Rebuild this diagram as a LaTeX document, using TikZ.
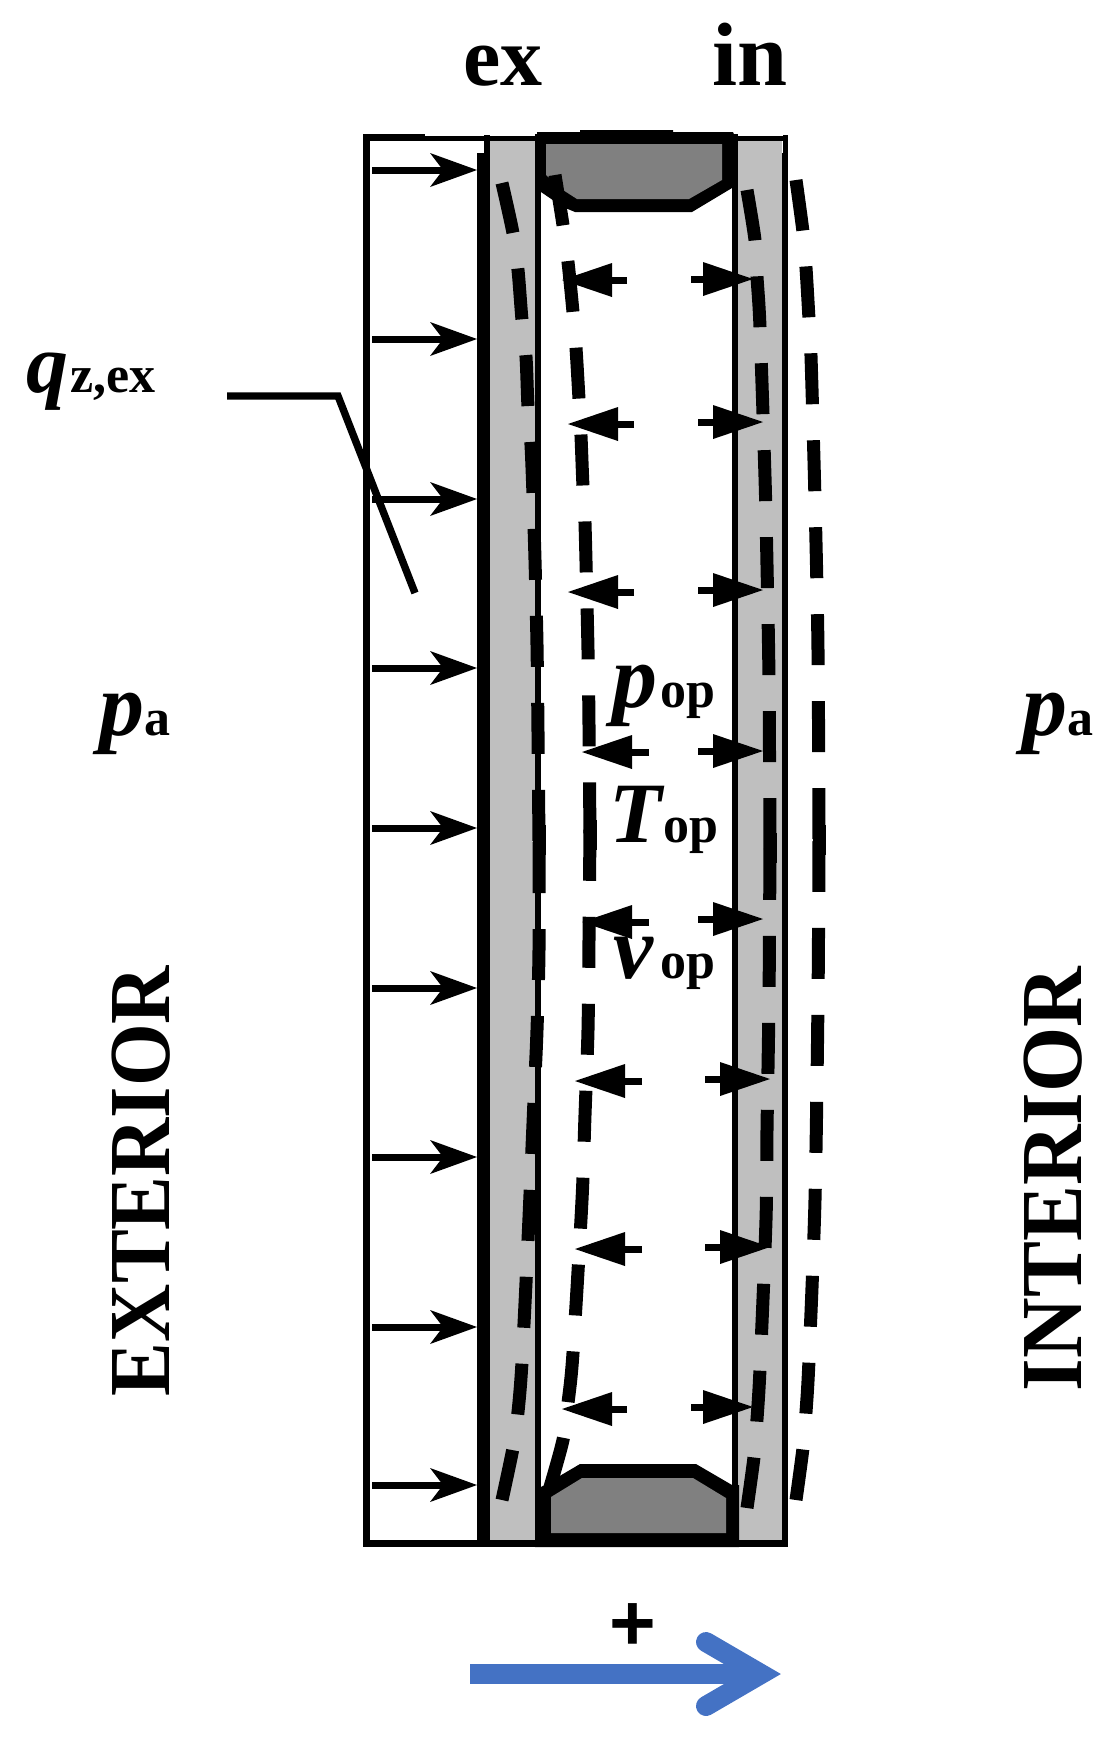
\documentclass[tikz,border=0pt]{standalone}
\usepackage{fontspec}
\setmainfont{Liberation Serif}
\newfontfamily\plusfont{Liberation Sans}
\newcommand{\fs}[1]{\fontsize{#1}{#1}\selectfont}
\definecolor{glass}{HTML}{BFBFBF}
\definecolor{spacer}{HTML}{808080}
\definecolor{blueA}{HTML}{4472C4}
\tikzset{
  lbl/.style={inner sep=0pt,outer sep=0pt,anchor=base west},
  dsh/.style={line width=6.5pt,dash pattern=on 25.5pt off 18pt,line cap=butt},
  joinpatch/.style={line width=6.5pt,line cap=butt},
  shaft/.style={line width=3.5pt,line cap=butt},
  wall/.style={fill=black,draw=none}
}
\newcommand{\ibp}[1]{\textbf{\textit{#1}}}
\newcommand{\sub}[1]{\fs{26}\textbf{#1}}
\begin{document}
\begin{tikzpicture}[x=0.5pt,y=-0.5pt]
\useasboundingbox (0,0) rectangle (1111,1737);
% glass panes
\fill[glass] (490,141) rectangle (535,1540);
\fill[glass] (738,141) rectangle (782,1540);
% outer frame
\fill[wall] (363,134) rectangle (370,1547);
\fill[wall] (363,134) rectangle (425,141);
\fill[wall] (425,135.5) rectangle (788,141);
\fill[wall] (363,1540) rectangle (788,1547);
\fill[wall] (477,153) rectangle (490,1547);
\fill[wall] (484,135) rectangle (490,153);
\fill[wall] (535,134) rectangle (541,1547);
\fill[wall] (732,134) rectangle (738,1547);
\fill[wall] (782,153) rectangle (788,1547);
\fill[wall] (783,135) rectangle (788,153);
% top spacer
\fill[black] (537,132) -- (580,132) -- (580,130) -- (673,130) -- (673,132) -- (733,132) -- (738,144) -- (737,186)
  -- (732,188) -- (692,212) -- (575,212) -- (563,207) -- (541,192) -- cycle;
\fill[spacer] (546,144) -- (722,144) -- (722,180) -- (689,199) -- (577,199) -- (563,190) -- (546,175) -- cycle;
% bottom spacer
\fill[black] (541,1487) -- (580,1464) -- (696,1464) -- (732,1485) -- (739,1485) -- (739,1547) -- (535,1547) -- (535,1487) -- cycle;
\fill[spacer] (551,1497) -- (582,1478) -- (693,1478) -- (726,1498) -- (726,1533) -- (551,1533) -- cycle;
% exterior load arrows
\foreach \y in {170,339,499,668,828,988,1157,1327,1485}{
  \draw[shaft] (372,\y) -- (445,\y);
  \fill (477,\y) -- (430,\y-17) -- (443,\y) -- (430,\y+17) -- cycle;
}
% interior arrows: left-pointing (tip x, tail x, y)
\foreach \t/\e/\y in {562/627/280,568/634/424,568/634/592,582/649/752,582/649/922,575/642/1081,575/642/1249,562/627/1409}{
  \draw[shaft] (\e,\y) -- (\t+30,\y);
  \fill (\t,\y) -- (\t+50,\y-17) -- (\t+50,\y+17) -- cycle;
}
% interior arrows: right-pointing (tail x, tip x, y)
\foreach \s/\t/\y in {691/753/279,698/763/422,698/763/590,698/763/751,698/763/919,705/770/1079,705/770/1247,691/753/1407}{
  \draw[shaft] (\s,\y) -- (\t-30,\y);
  \fill (\t,\y) -- (\t-50,\y-17) -- (\t-50,\y+17) -- cycle;
}
% deformed shape: four dashed curves, each drawn from both ends to its middle
\draw[dsh] plot[smooth] coordinates {(502,183) (513,233) (518,270) (522,320) (526,357) (528,407) (531,445) (533,495) (535,560) (537,645) (538,732) (539,843)};
\draw[dsh] plot[smooth] coordinates {(502,1500) (513,1448) (518,1412) (522,1362) (528,1240) (534,1100) (537,1030) (539,950) (539,839)};
\draw[dsh] plot[smooth] coordinates {(555,175) (563,225) (568,262) (573,312) (576,348) (579,399) (581,436) (583,487) (585,523) (588,650) (589,725) (590,838)};
\draw[dsh] plot[smooth] coordinates {(550,1487) (563,1440) (568,1403) (573,1353) (582,1200) (585,1115) (588,1030) (589,940) (590,828)};
\draw[dsh] plot[smooth] coordinates {(747,190) (755,240) (757,277) (760,327) (765,477) (767,565) (769,680) (770,851)};
\draw[dsh] plot[smooth] coordinates {(747,1508) (754,1457) (757,1419) (760,1369) (766,1220) (767,1130) (769,1000) (770,847)};
\draw[dsh] plot[smooth] coordinates {(796,180) (803,232) (806,268) (809,319) (811,356) (815,500) (818,650) (819,844)};
\draw[dsh] plot[smooth] coordinates {(796,1500) (803,1448) (806,1412) (809,1360) (815,1200) (818,1000) (819,840)};
% close the seam where the two halves of each curve meet
\draw[joinpatch] (539,825) -- (539,855);
\draw[joinpatch] (590,820) -- (590,850);
\draw[joinpatch] (770,833) -- (770,863);
\draw[joinpatch] (819,825) -- (819,855);
% leader
\coordinate (la) at (227,396); \coordinate (lb) at (338,396); \coordinate (lc) at (415,593);
\draw[line width=3.7pt,line join=miter] (la) -- (lb) -- (lc);
% blue direction arrow
\fill[blueA] (470,1664) rectangle (760,1684);
\draw[blueA,line width=10pt,line cap=round,line join=miter] (706,1642) -- (761,1674) -- (706,1706);
% labels
\node[lbl] (ex) at (463,85) {\fs{42}\textbf{ex}};
\node[lbl] (in) at (712,85) {\fs{45}\textbf{in}};
\node[lbl] (qz) at (26,392) {\fs{42}\ibp{q}\hspace{1pt}\sub{z,ex}};
\node[lbl] (pal) at (99,735) {\fs{45}\ibp{p}\hspace{0pt}\sub{a}};
\node[lbl] (par) at (1022,735) {\fs{45}\ibp{p}\hspace{0pt}\sub{a}};
\node[lbl] (pop) at (612,707) {\fs{45}\ibp{p}\hspace{1.5pt}\sub{op}};
\node[lbl] (top) at (609,842) {\fs{43}\ibp{T}\hspace{-0.5pt}\sub{op}};
\node[lbl] (vop) at (613,978) {\fs{45}\ibp{v}\hspace{3.5pt}\sub{op}};
\node[lbl,rotate=90,xscale=0.927] (ext) at (169,1396) {\fs{43.5}\textbf{EXTERIOR}};
\node[lbl,rotate=90,xscale=0.964] (int) at (1081,1391) {\fs{43.5}\textbf{INTERIOR}};
\node[inner sep=0pt] (plus) at (633,1627) {\fs{40}\plusfont\textbf{+}};
\end{tikzpicture}
\end{document}
